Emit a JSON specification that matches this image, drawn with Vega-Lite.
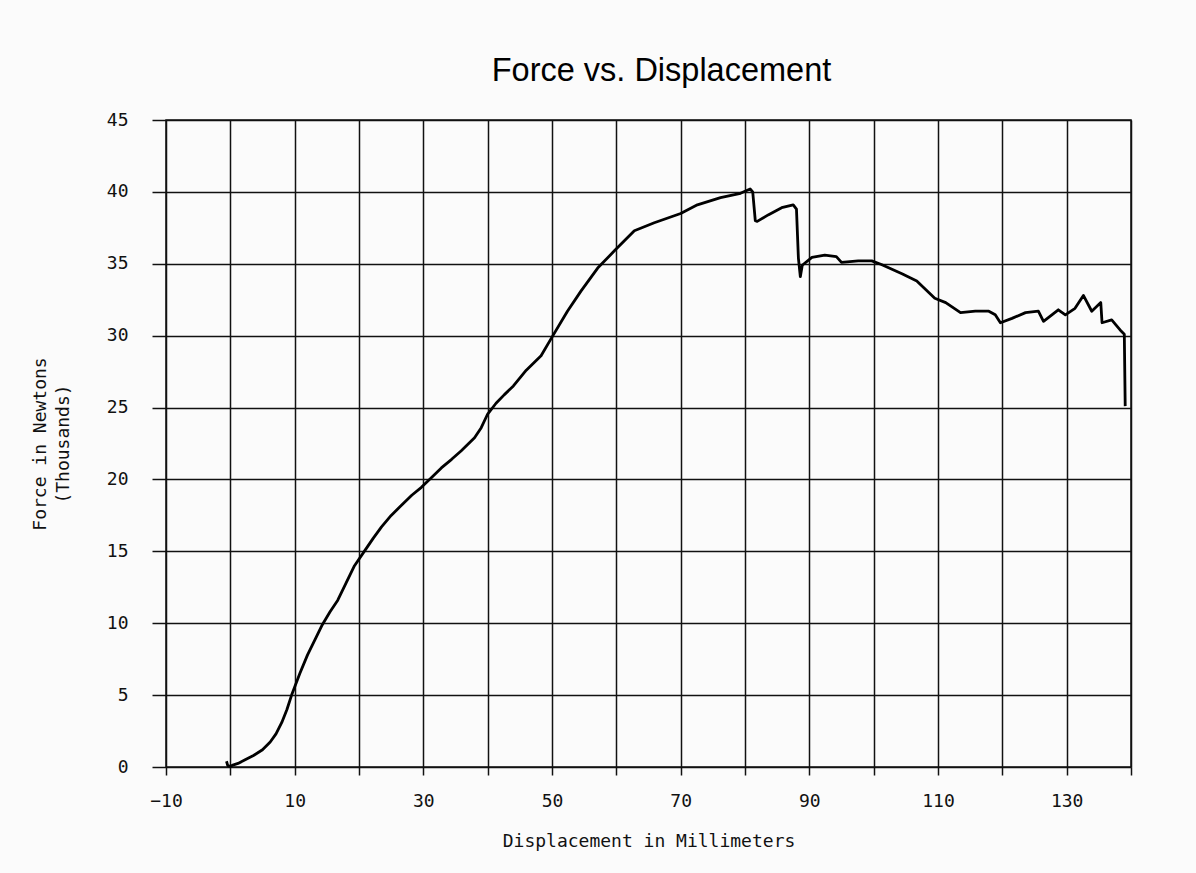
{
  "$schema": "https://vega.github.io/schema/vega-lite/v6.json",
  "autosize": {"type": "none"},
  "width": 965,
  "height": 647,
  "padding": {"left": 166, "top": 120, "right": 65, "bottom": 106},
  "background": "#fbfbfb",
  "title": {
    "text": "Force vs. Displacement",
    "font": "Liberation Sans",
    "fontSize": 32.5,
    "fontWeight": "normal",
    "color": "#000000",
    "anchor": "middle",
    "dx": 13,
    "offset": 24
  },
  "config": {
    "view": {"stroke": "#111111", "strokeWidth": 1.5},
    "axis": {
      "gridColor": "#111111",
      "gridWidth": 1.5,
      "gridOpacity": 1,
      "tickColor": "#111111",
      "tickWidth": 1.5,
      "domain": false,
      "labelFont": "DejaVu Sans Mono",
      "labelFontSize": 18,
      "labelColor": "#111111",
      "titleFont": "DejaVu Sans Mono",
      "titleFontSize": 18,
      "titleFontWeight": "normal",
      "titleColor": "#111111"
    }
  },
  "data": {
    "values": [
      {"d": -0.6, "f": 0.4}, {"d": -0.4, "f": 0.1}, {"d": 0.0, "f": 0.05},
      {"d": 0.5, "f": 0.15}, {"d": 1.2, "f": 0.25}, {"d": 2.3, "f": 0.5},
      {"d": 3.6, "f": 0.8}, {"d": 5.0, "f": 1.2}, {"d": 6.2, "f": 1.74},
      {"d": 7.1, "f": 2.3}, {"d": 8.0, "f": 3.1}, {"d": 8.8, "f": 4.0},
      {"d": 9.6, "f": 5.1}, {"d": 10.8, "f": 6.5}, {"d": 12.0, "f": 7.8},
      {"d": 13.2, "f": 8.9}, {"d": 14.3, "f": 9.9}, {"d": 15.5, "f": 10.8},
      {"d": 16.7, "f": 11.6}, {"d": 18.0, "f": 12.8}, {"d": 19.3, "f": 14.0},
      {"d": 20.9, "f": 15.05}, {"d": 22.2, "f": 15.9}, {"d": 23.5, "f": 16.7},
      {"d": 25.0, "f": 17.5}, {"d": 26.6, "f": 18.2}, {"d": 28.2, "f": 18.9},
      {"d": 29.7, "f": 19.45}, {"d": 31.2, "f": 20.1}, {"d": 32.8, "f": 20.8},
      {"d": 34.4, "f": 21.4}, {"d": 35.9, "f": 22.0}, {"d": 37.96, "f": 22.9},
      {"d": 39.0, "f": 23.6}, {"d": 40.0, "f": 24.55}, {"d": 41.3, "f": 25.3},
      {"d": 42.6, "f": 25.9}, {"d": 44.0, "f": 26.5}, {"d": 46.0, "f": 27.6},
      {"d": 48.3, "f": 28.6}, {"d": 50.0, "f": 29.9}, {"d": 52.4, "f": 31.7},
      {"d": 54.5, "f": 33.1}, {"d": 57.1, "f": 34.7}, {"d": 59.7, "f": 35.9},
      {"d": 62.8, "f": 37.3}, {"d": 65.9, "f": 37.85}, {"d": 70.0, "f": 38.5},
      {"d": 72.6, "f": 39.1}, {"d": 76.2, "f": 39.6}, {"d": 79.3, "f": 39.9},
      {"d": 80.8, "f": 40.2}, {"d": 81.2, "f": 40.0}, {"d": 81.6, "f": 38.0},
      {"d": 81.9, "f": 37.95}, {"d": 83.6, "f": 38.4}, {"d": 85.7, "f": 38.9},
      {"d": 87.5, "f": 39.1}, {"d": 88.0, "f": 38.8}, {"d": 88.3, "f": 35.4},
      {"d": 88.6, "f": 34.1}, {"d": 88.9, "f": 34.9}, {"d": 90.4, "f": 35.45},
      {"d": 92.4, "f": 35.6}, {"d": 94.2, "f": 35.5}, {"d": 95.0, "f": 35.1},
      {"d": 97.6, "f": 35.2}, {"d": 99.7, "f": 35.2}, {"d": 101.2, "f": 34.95},
      {"d": 104.4, "f": 34.3}, {"d": 106.7, "f": 33.8}, {"d": 109.5, "f": 32.6},
      {"d": 111.2, "f": 32.3}, {"d": 113.5, "f": 31.6}, {"d": 115.8, "f": 31.7},
      {"d": 117.9, "f": 31.7}, {"d": 118.9, "f": 31.45}, {"d": 119.7, "f": 30.9},
      {"d": 121.5, "f": 31.2}, {"d": 123.6, "f": 31.6}, {"d": 125.6, "f": 31.7},
      {"d": 126.4, "f": 31.0}, {"d": 128.7, "f": 31.8}, {"d": 129.8, "f": 31.45},
      {"d": 131.3, "f": 31.9}, {"d": 132.6, "f": 32.8}, {"d": 133.9, "f": 31.7},
      {"d": 135.3, "f": 32.3}, {"d": 135.5, "f": 30.9}, {"d": 137.0, "f": 31.1},
      {"d": 138.5, "f": 30.3}, {"d": 138.96, "f": 30.1}, {"d": 139.1, "f": 25.1}
    ]
  },
  "mark": {"type": "line", "color": "#000000", "strokeWidth": 2.8, "strokeJoin": "round"},
  "encoding": {
    "x": {
      "field": "d",
      "type": "quantitative",
      "sort": null,
      "scale": {"domain": [-10, 140], "nice": false, "zero": false},
      "axis": {
        "values": [-10, 0, 10, 20, 30, 40, 50, 60, 70, 80, 90, 100, 110, 120, 130, 140],
        "labelExpr": "(datum.value + 10) % 20 == 0 ? datum.label : ''",
        "labelFlush": false,
        "labelOverlap": false,
        "tickSize": 8,
        "labelPadding": 17,
        "title": "Displacement in Millimeters",
        "titlePadding": 22
      }
    },
    "y": {
      "field": "f",
      "type": "quantitative",
      "scale": {"domain": [0, 45], "nice": false},
      "axis": {
        "values": [0, 5, 10, 15, 20, 25, 30, 35, 40, 45],
        "tickSize": 14,
        "labelPadding": 24,
        "title": ["Force in Newtons", "(Thousands)"],
        "titlePadding": 34,
        "titleLineHeight": 23
      }
    },
    "order": {"field": "d", "type": "quantitative"}
  }
}
